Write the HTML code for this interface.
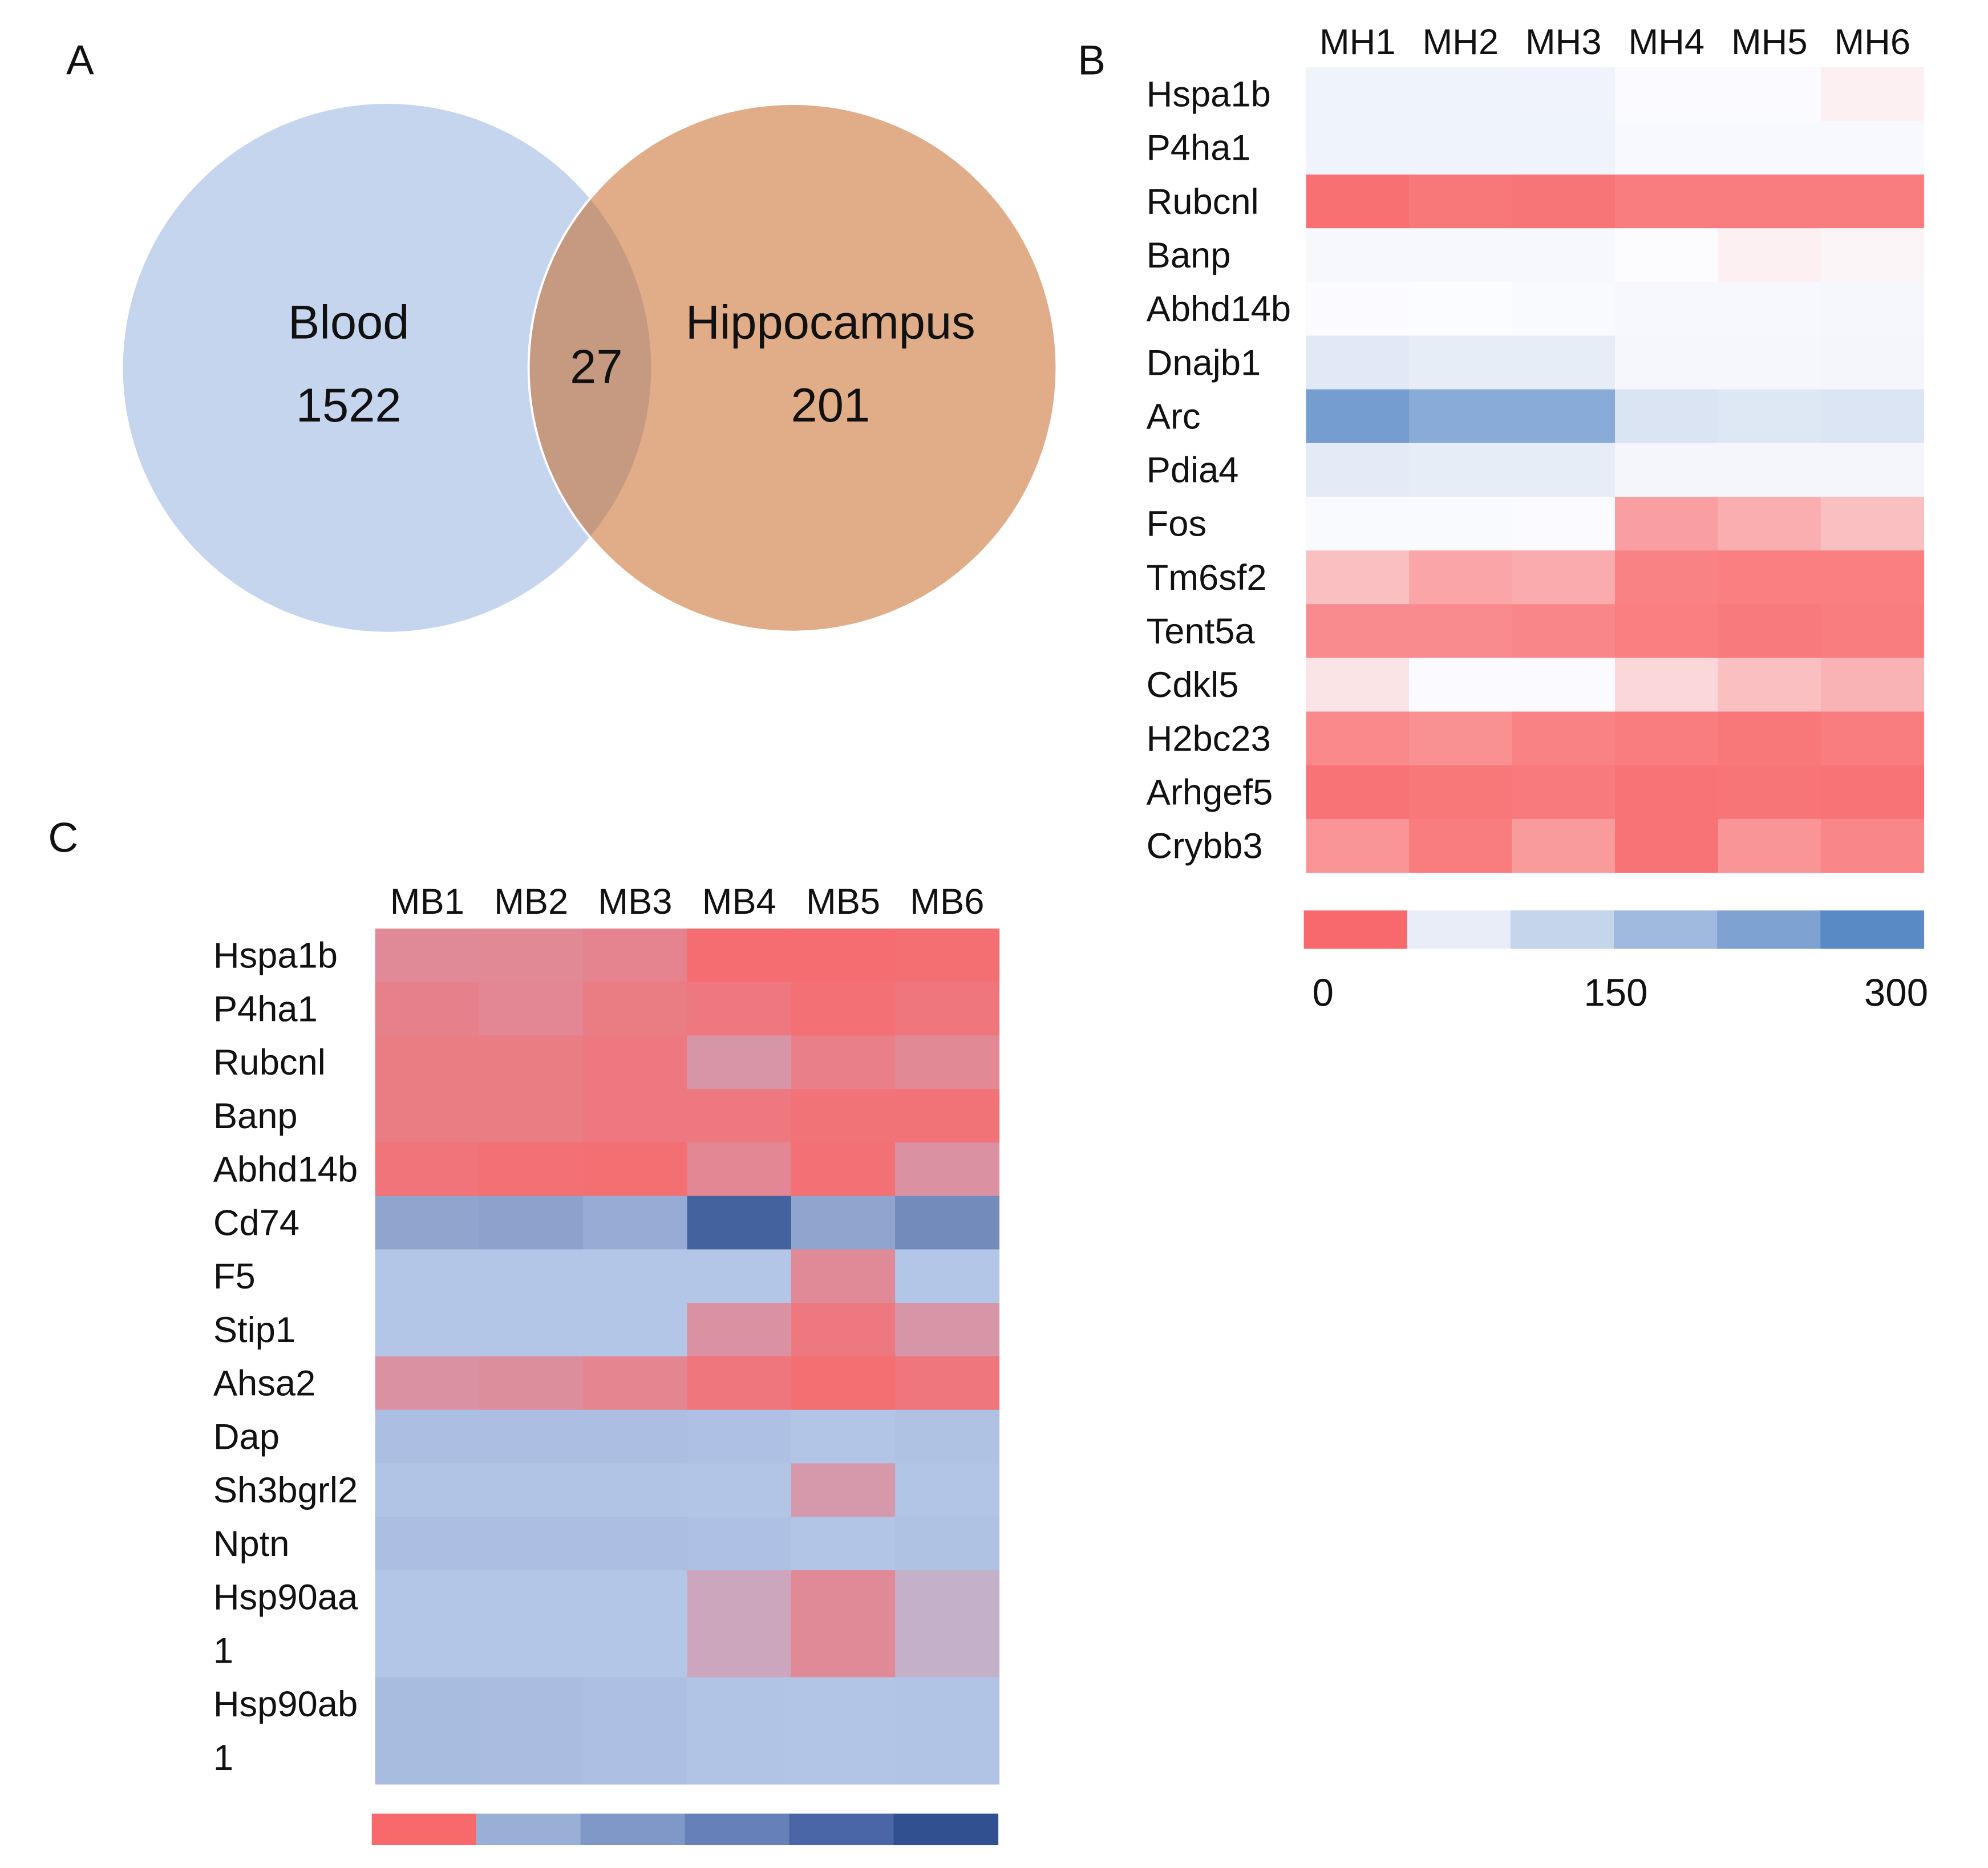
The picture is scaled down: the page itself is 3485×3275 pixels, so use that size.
<!DOCTYPE html>
<html><head><meta charset="utf-8"><style>
html,body{margin:0;padding:0;background:#fff}
svg{display:block}
text{font-family:"Liberation Sans",sans-serif;fill:#111}
</style></head><body>
<svg id="s" width="3485" height="3275" viewBox="0 0 3485 3275" xmlns="http://www.w3.org/2000/svg">
<defs><clipPath id="blood-clip"><circle cx="686" cy="652" r="468"/></clipPath></defs>
<g transform="scale(0.989)">
<g>
<circle cx="686" cy="652" r="468" fill="#c6d5ee"/>
<circle cx="1405" cy="652" r="468" fill="#e1ac88" stroke="#fff" stroke-width="4"/>
<circle cx="1405" cy="652" r="466" fill="#c59a80" clip-path="url(#blood-clip)"/>
<text x="618" y="600" font-size="84" text-anchor="middle">Blood</text>
<text x="618" y="747" font-size="84" text-anchor="middle">1522</text>
<text x="1057" y="679" font-size="84" text-anchor="middle">27</text>
<text x="1472" y="600" font-size="84" text-anchor="middle">Hippocampus</text>
<text x="1472" y="747" font-size="84" text-anchor="middle">201</text>
</g>
<text x="142" y="132" font-size="74" text-anchor="middle">A</text>
<text x="1935" y="132" font-size="74" text-anchor="middle">B</text>
<text x="112" y="1510" font-size="74" text-anchor="middle">C</text>
<g id="hb"></g>
<g id="hc"></g>
</g>
</svg>
<script>
const bCols=["MH1","MH2","MH3","MH4","MH5","MH6"];
const bRows=["Hspa1b","P4ha1","Rubcnl","Banp","Abhd14b","Dnajb1","Arc","Pdia4","Fos","Tm6sf2","Tent5a","Cdkl5","H2bc23","Arhgef5","Crybb3"];
const bVals=[
[80,80,78,62,62,55],
[80,80,80,66,66,66],
[3,6,5,8,8,8],
[68,68,68,60,55,57],
[62,61,64,68,68,70],
[100,92,92,70,70,72],
[260,230,230,110,105,108],
[95,92,92,72,72,72],
[64,64,62,22,28,35],
[35,25,27,10,9,9],
[14,14,12,9,7,8],
[50,62,62,45,35,30],
[13,16,10,8,6,8],
[4,6,7,4,5,4],
[18,8,20,4,18,12]];
const bLegend=["0","150","300"];
const cCols=["MB1","MB2","MB3","MB4","MB5","MB6"];
const cRows=["Hspa1b","P4ha1","Rubcnl","Banp","Abhd14b","Cd74","F5","Stip1","Ahsa2","Dap","Sh3bgrl2","Nptn","Hsp90aa\n1","Hsp90ab\n1"];
const cRowUnits=[1,1,1,1,1,1,1,1,1,1,1,1,2,2];
const cVals=[
[18,17,14,2,2,3],
[13,16,10,8,4,7],
[10,10,8,24,12,17],
[10,10,8,8,5,5],
[6,4,3,16,4,22],
[120,125,105,260,120,175],
[50,50,50,50,18,50],
[50,50,50,22,8,24],
[22,20,15,7,3,7],
[65,65,65,62,52,58],
[55,55,55,52,26,52],
[65,65,65,62,52,58],
[50,50,50,33,18,38],
[72,68,64,55,52,55]];
const NS="http://www.w3.org/2000/svg";
function hex(h){return [parseInt(h.slice(1,3),16),parseInt(h.slice(3,5),16),parseInt(h.slice(5,7),16)];}
function scale(stops){return v=>{for(let i=1;i<stops.length;i++){if(v<=stops[i][0]||i==stops.length-1){const a=stops[i-1],b=stops[i];let t=(v-a[0])/(b[0]-a[0]);t=Math.max(0,Math.min(1,t));const A=hex(a[1]),B=hex(b[1]);return "rgb("+A.map((x,k)=>Math.round(x+(B[k]-x)*t)).join(",")+")";}}};}
const colB=scale([[0,"#f8696b"],[60,"#fcfcff"],[300,"#5a8ac6"]]);
const colC=scale([[0,"#f8696b"],[50,"#b4c6e7"],[300,"#2f4f8f"]]);
function el(p,tag,attrs){const e=document.createElementNS(NS,tag);for(const k in attrs)e.setAttribute(k,attrs[k]);p.appendChild(e);return e;}
function heat(g,cols,rows,vals,units,x0,x1,y0,unitH,labelX,headerY,col){
  const cw=(x1-x0)/cols.length;
  const xS=i=>x0+i*cw;
  cols.forEach((c,i)=>{const t=el(g,"text",{x:xS(i)+cw/2,y:headerY,"font-size":64,"text-anchor":"middle"});t.textContent=c;
    
    });
  let y=y0;
  rows.forEach((r,ri)=>{const h=unitH*units[ri];
    vals[ri].forEach((v,ci)=>{const rc=el(g,"rect",{x:xS(ci),y:y,width:cw+0.6,height:h+0.6,fill:col(v)});
      
      });
    const lines=r.split("\n");
    lines.forEach((ln,li)=>{const t=el(g,"text",{x:labelX,y:y+unitH*li+unitH/2+22,"font-size":64});t.textContent=ln;
      
      });
    y+=h;});
}
const hb=document.getElementById("hb"),hc=document.getElementById("hc");
heat(hb,bCols,bRows,bVals,bRows.map(()=>1),2315,3410,119,95.2,2032,96,colB);
heat(hc,cCols,cRows,cVals,cRowUnits,665,1771,1646,94.8,378,1620,colC);
const lbC=["#f8696b","#e8edf8","#c5d5eb","#a0b9df","#7ea3d2","#5a8ac6"];
lbC.forEach((c,i)=>{const w=(3410-2311)/6;const r=el(hb,"rect",{x:2311+i*w,y:1614,width:w+0.6,height:68,fill:c});
  
  });
const lbX=[2345,2864,3361];
bLegend.forEach((l,i)=>{const t=el(hb,"text",{x:lbX[i],y:1783,"font-size":68,"text-anchor":"middle"});t.textContent=l;
  
  });
const lcC=["#f8696b","#9aafd6","#7f98c7","#6680b8","#4a66a6","#31508f"];
lcC.forEach((c,i)=>{const w=(1769-659)/6;const r=el(hc,"rect",{x:659+i*w,y:3215,width:w+0.6,height:56,fill:c});
  
  });
</script>
</body></html>
